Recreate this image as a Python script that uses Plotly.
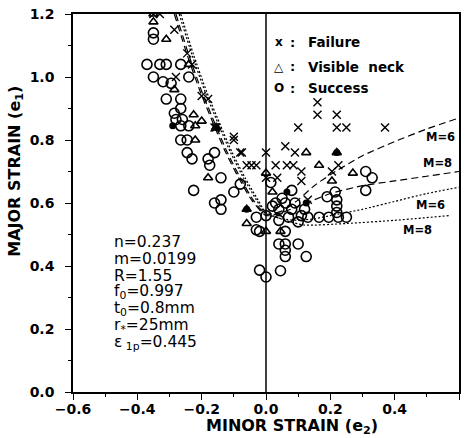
import plotly.graph_objects as go

# ---- data ----
fail_x = [-0.35, -0.33, -0.285, -0.245, -0.28, -0.23, -0.20, -0.18, -0.155, -0.16, -0.10, -0.08, -0.06,
          -0.10, -0.075, -0.045, -0.03, 0.0, 0.0, 0.03, 0.035, 0.06, 0.065, 0.085, 0.09, 0.10, 0.11, 0.11,
          0.16, 0.16, 0.205, 0.22, 0.22, 0.225, 0.25, 0.37, 0.13]
fail_y = [1.20, 1.20, 1.15, 1.075, 1.00, 1.04, 0.94, 0.93, 0.84, 0.84, 0.80, 0.76, 0.72,
          0.81, 0.76, 0.72, 0.72, 0.76, 0.68, 0.72, 0.68, 0.78, 0.72, 0.72, 0.76, 0.84, 0.70, 0.67,
          0.92, 0.88, 0.70, 0.88, 0.84, 0.72, 0.84, 0.84, 0.61]

neck_x = [-0.35, -0.35, -0.31, -0.24, -0.285, -0.225, -0.20, -0.22, -0.18, -0.155, -0.22, -0.06,
          0.125, 0.165, 0.22, 0.205, 0.0, 0.02, -0.06, 0.0, 0.045, 0.27]
neck_y = [1.20, 1.175, 1.12, 1.04, 0.96, 0.88, 0.86, 0.80, 0.68, 0.84, 0.845, 0.58,
          0.76, 0.72, 0.76, 0.67, 0.695, 0.635, 0.535, 0.51, 0.51, 0.695]

succ_x = [-0.35, -0.35, -0.37, -0.33, -0.31, -0.265, -0.35, -0.32, -0.295, -0.24,
          -0.31, -0.265, -0.265, -0.285, -0.28, -0.26, -0.265, -0.24, -0.265, -0.245,
          -0.245, -0.23, -0.18, -0.16, -0.175, -0.14, -0.225, -0.16, -0.14, -0.14,
          -0.10, -0.08, -0.03, -0.03,
          0.0, 0.02, 0.04, 0.06, 0.08, 0.11, 0.13, 0.07, 0.04, 0.10, 0.165, 0.195, 0.225, 0.25,
          0.08, 0.05, 0.19, 0.215, 0.22, 0.22, 0.22, -0.02, 0.06,
          0.04, 0.06, 0.10, 0.06, 0.06, 0.125, -0.02, 0.0, 0.045,
          0.31, 0.33, 0.31, 0.015, 0.03, 0.09, 0.12]
succ_y = [1.14, 1.12, 1.04, 1.04, 1.04, 1.04, 1.00, 0.985, 0.98, 1.00,
          0.93, 0.93, 0.90, 0.885, 0.865, 0.865, 0.845, 0.845, 0.80, 0.80,
          0.76, 0.74, 0.74, 0.76, 0.72, 0.68, 0.64, 0.60, 0.61, 0.58,
          0.635, 0.66, 0.555, 0.515,
          0.56, 0.59, 0.58, 0.60, 0.58, 0.56, 0.555, 0.555, 0.545, 0.54, 0.555, 0.555, 0.555, 0.555,
          0.64, 0.615, 0.62, 0.635, 0.61, 0.59, 0.57, 0.51, 0.51,
          0.47, 0.47, 0.47, 0.45, 0.43, 0.43, 0.387, 0.365, 0.385,
          0.70, 0.68, 0.64, 0.665, 0.60, 0.60, 0.58]

solid_x = [-0.29, -0.155, -0.06, 0.065, 0.125, 0.22]
solid_y = [0.845, 0.84, 0.58, 0.635, 0.60, 0.76]

# forming-limit curves
dash6_x = [-0.28, -0.24, -0.20, -0.16, -0.12, -0.08, -0.04, 0.0, 0.05, 0.10, 0.15, 0.20, 0.30, 0.40, 0.50, 0.60]
dash6_y = [1.20, 1.07, 0.955, 0.855, 0.76, 0.68, 0.61, 0.565, 0.575, 0.61, 0.655, 0.69, 0.75, 0.795, 0.835, 0.87]
dash8_x = [-0.285, -0.245, -0.205, -0.165, -0.125, -0.085, -0.045, 0.0, 0.05, 0.10, 0.15, 0.20, 0.30, 0.40, 0.50, 0.60]
dash8_y = [1.20, 1.07, 0.955, 0.855, 0.76, 0.68, 0.61, 0.56, 0.57, 0.59, 0.61, 0.63, 0.655, 0.67, 0.685, 0.70]
dot6_x = [-0.27, -0.23, -0.19, -0.15, -0.11, -0.07, -0.03, 0.0, 0.05, 0.10, 0.15, 0.20, 0.30, 0.40, 0.50, 0.60]
dot6_y = [1.20, 1.07, 0.955, 0.855, 0.76, 0.68, 0.61, 0.565, 0.55, 0.545, 0.55, 0.56, 0.58, 0.605, 0.63, 0.65]
dot8_x = [-0.265, -0.225, -0.185, -0.145, -0.105, -0.065, -0.025, 0.0, 0.06, 0.12, 0.25, 0.40, 0.57]
dot8_y = [1.20, 1.07, 0.955, 0.855, 0.76, 0.68, 0.61, 0.57, 0.545, 0.53, 0.535, 0.545, 0.56]

x_ticks = [-0.6, -0.4, -0.2, 0.0, 0.2, 0.4, 0.6]
y_ticks = [0.0, 0.2, 0.4, 0.6, 0.8, 1.0, 1.2]

legend_symbols = ["x", "△", "O"]
legend_labels = ["Failure", "Visible  neck", "Success"]
legend_y = [1.111, 1.033, 0.965]

m_labels = ["M=6", "M=8", "M=6", "M=8"]
m_x = [0.491, 0.482, 0.46, 0.42]
m_y = [0.81, 0.727, 0.594, 0.514]

params = ["n=0.237", "m=0.0199", "R=1.55", "f<sub>0</sub>=0.997", "t<sub>0</sub>=0.8mm",
          "r<sub>*</sub>=25mm", "ε<sub> 1p</sub>=0.445"]

FONT = "DejaVu Sans, Verdana, sans-serif"
fig = go.Figure()

def curve(x, y, dash):
    fig.add_trace(go.Scatter(x=x, y=y, mode="lines", line=dict(color="black", width=1.2, dash=dash,
                                                                 shape="spline", smoothing=0.6),
                             showlegend=False, hoverinfo="skip"))

curve(dash6_x, dash6_y, "7px,4px")
curve(dash8_x, dash8_y, "7px,4px")
curve(dot6_x, dot6_y, "2px,2px")
curve(dot8_x, dot8_y, "2px,2px")

fig.add_trace(go.Scatter(x=succ_x, y=succ_y, mode="markers",
                         marker=dict(symbol="circle-open", size=10, color="black", line=dict(width=1.6)),
                         showlegend=False))
fig.add_trace(go.Scatter(x=neck_x, y=neck_y, mode="markers",
                         marker=dict(symbol="triangle-up-open", size=8, color="black", line=dict(width=1.6)),
                         showlegend=False))
fig.add_trace(go.Scatter(x=fail_x, y=fail_y, mode="markers",
                         marker=dict(symbol="x-thin-open", size=8, color="black", line=dict(width=1.4)),
                         showlegend=False))
fig.add_trace(go.Scatter(x=solid_x, y=solid_y, mode="markers",
                         marker=dict(symbol="circle", size=7, color="black"),
                         showlegend=False))

# vertical line at e2 = 0
fig.add_shape(type="line", x0=0, x1=0, y0=0, y1=1.2, xref="x", yref="y",
              line=dict(color="black", width=1.5))

bold = lambda s: dict(family=FONT, size=s, color="black", weight="bold")

for sym, lab, yy in zip(legend_symbols, legend_labels, legend_y):
    fig.add_annotation(x=0.04, y=yy, text=sym, showarrow=False, xanchor="center", font=bold(12))
    fig.add_annotation(x=0.081, y=yy, text=":", showarrow=False, xanchor="center", font=bold(13))
    fig.add_annotation(x=0.124, y=yy, text=lab.replace(" ", "&nbsp;"), showarrow=False,
                       xanchor="left", font=bold(13.5))

for t, xx, yy in zip(m_labels, m_x, m_y):
    fig.add_annotation(x=xx, y=yy, text=t, showarrow=False, xanchor="left", font=bold(11.5))

for i, p in enumerate(params):
    fig.add_annotation(x=-0.478, y=0.475 - i * 0.053, text=p, showarrow=False,
                       xanchor="left", yanchor="middle",
                       font=dict(family=FONT, size=15.5, color="black"))

# axis titles
fig.add_annotation(xref="paper", yref="paper", x=-0.148, y=0.585, text="MAJOR STRAIN (e<sub>1</sub>)",
                   textangle=-90, showarrow=False, xanchor="center", yanchor="middle", font=bold(16))
fig.add_annotation(xref="paper", yref="paper", x=0.567, y=-0.09, text="MINOR STRAIN (e<sub>2</sub>)",
                   showarrow=False, xanchor="center", yanchor="middle", font=bold(16))

axis_common = dict(showline=True, linecolor="black", linewidth=1.5, mirror=True,
                   ticks="outside", tickcolor="black", ticklen=6, tickwidth=1.2,
                   showgrid=False, zeroline=False, automargin=False,
                   tickfont=bold(14),
                   minor=dict(ticks="outside", ticklen=3, tickcolor="black", dtick=0.1))

fig.update_xaxes(range=[-0.6, 0.6], tickvals=x_ticks, tickformat=".1f", ticklabelstandoff=-3, **axis_common)
fig.update_yaxes(range=[0, 1.2], tickvals=y_ticks, tickformat=".1f", ticklabelstandoff=8, **axis_common)

fig.update_layout(width=470, height=438, margin=dict(l=73, r=11, t=14, b=46),
                  plot_bgcolor="white", paper_bgcolor="white", showlegend=False)

fig.write_html("out.html")
